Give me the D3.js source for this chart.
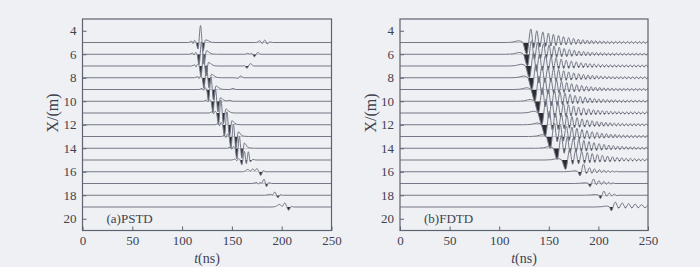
<!DOCTYPE html>
<html>
<head>
<meta charset="utf-8">
<script src="https://cdn.jsdelivr.net/npm/d3@7"></script>
<style>
  body { margin: 0; background: #eef0f3; }
  svg { display: block; }
  text { font-family: "Liberation Serif", "Times New Roman", serif; fill: #3f4250; }
</style>
</head>
<body>
<svg id="chart" width="700" height="267"></svg>
<script>
// receiver positions (m) and tick labels
const receivers = [5, 6, 7, 8, 9, 10, 11, 12, 13, 14, 15, 16, 17, 18, 19];
const xTicksM = [4, 6, 8, 10, 12, 14, 16, 18, 20];
const tTicks = [0, 50, 100, 150, 200, 250];

// (a) PSTD: knots [t (ns), amplitude (m)]
const pstdTraces = [
  [[106.5,0],[109.5,0.12],[111,-0.08],[112.5,0.18],[114,0.02],[116,-0.55],[118.5,1.45],[121,-0.75],[123.5,0.22],[126.5,0.15],[129.5,0.02],[133,0],[174,0],[176,0.05],[178,0.15],[180.5,-0.08],[183,0.22],[185.5,-0.12],[188,0.05],[191,0]],
  [[107.5,0],[110.5,0.1],[112,-0.06],[113.5,0.15],[115,0.02],[117,-0.9],[119.5,1.05],[122,-0.85],[124.5,0.3],[127.5,0.15],[130.5,0.02],[134.5,0],[163,0],[166,0.08],[168,0],[170,0.08],[172.5,-0.22],[176,0.15],[179,0]],
  [[109.5,0],[112.5,0.1],[114,-0.06],[115.5,0.15],[117,0.02],[119,-0.9],[121.5,1.05],[124,-0.85],[126.5,0.3],[129.5,0.15],[132.5,0.02],[136.5,0],[161,0],[163,0.03],[165,-0.2],[168.5,0.2],[172,0]],
  [[112.5,0],[115.5,0.1],[117,-0.06],[118.5,0.15],[120,0.02],[122,-0.9],[124.5,1.05],[127,-0.85],[129.5,0.3],[132.5,0.15],[135.5,0.02],[139.5,0],[153,0],[156,-0.05],[158.5,0.15],[162,0]],
  [[117,0],[120,0.1],[121.5,-0.06],[123,0.15],[124.5,0.02],[126.5,-0.95],[129,1.05],[131.5,-0.9],[134,0.3],[137,0.15],[140,0.02],[144,0],[148,0],[151,0.1],[154,0]],
  [[121.5,0],[124.5,0.1],[126,-0.06],[127.5,0.15],[129,0.02],[131,-0.95],[133.5,1.05],[136,-0.9],[138.5,0.3],[141.5,0.12],[144.5,0.03],[148,0.08],[151,0]],
  [[127,0],[130,0.1],[131.5,-0.06],[133,0.15],[134.5,0.02],[136.5,-0.95],[139,1.1],[141.5,-0.9],[144,0.35],[147,0.15],[150,0.02],[154,0]],
  [[133,0],[136,0.1],[137.5,-0.08],[139,0.2],[140.5,0.05],[142.5,-0.95],[145,1.1],[147.5,-1.0],[150,0.35],[153,0.12],[156,0.02],[160,0]],
  [[139.5,0],[142.5,0.1],[144,-0.08],[145.5,0.2],[147,0.05],[149,-1.0],[151.5,1.05],[154,-1.0],[156.5,0.4],[159.5,0.12],[162.5,0.02],[166.5,0]],
  [[145.5,0],[148.5,0.1],[150,-0.08],[151.5,0.15],[153,0.05],[155,-0.9],[157.5,1.0],[160,-0.85],[162.5,0.45],[165.5,0.12],[168.5,0.02],[172.5,0]],
  [[150,0],[153,0.08],[155,-0.05],[156.5,0.12],[158,0.03],[160,-0.4],[162.5,0.75],[164.5,-0.3],[166.5,0.7],[168.5,-0.15],[171,0.05],[174,0]],
  [[160,0],[163,0.05],[166,0.2],[168.5,0.05],[171,0.25],[173,0.08],[175,0.28],[177,0.02],[179,-0.32],[181.5,0.1],[184,0],[187,0]],
  [[170,0],[175,0.08],[176.5,-0.04],[178,0.06],[180,0.05],[182.3,0.37],[184.7,-0.27],[187,0.08],[190,0]],
  [[183,0],[186,0.04],[189,0.08],[191,0.03],[193,0.28],[196.3,-0.22],[198.5,0.05],[201,0]],
  [[190,0],[194,0.05],[198,0.22],[200.5,0.05],[203,0.35],[207,-0.27],[209.5,0.05],[212,0]]
];

// (b) FDTD: ringing wavelet, [t after first trough (ns), amplitude (m)]
const fdtdWavelet = [
  [-22,0],[-14,0.04],[-8.4,0.15],[-4.5,0.05],[0,-1.0],[4.1,1.15],[7,-0.45],[10.1,1.0],[13,-0.4],[16.2,0.9],
  [19,-0.34],[21.8,0.8],[24.3,-0.3],[26.8,0.7],[29.4,-0.26],[32,0.6],[34.5,-0.22],[37,0.5],[39.6,-0.2],[42.2,0.42],
  [44.7,-0.18],[47.2,0.35],[49.6,-0.15],[52,0.28],[54.3,-0.14],[56.6,0.24],[58.8,-0.12],[61,0.2],[63.2,-0.12],[65.3,0.18],
  [67.4,-0.1],[69.5,0.15],[71.6,-0.1],[73.6,0.13],[75.6,-0.09],[77.6,0.12],[79.6,-0.09],[81.6,0.1],[83.6,-0.09],[85.6,0.1],
  [87.6,-0.09],[89.6,0.1],[91.6,-0.08],[93.6,0.1],[95.6,-0.08],[97.6,0.09],[99.6,-0.08],[101.6,0.09],[103.6,-0.08],[105.6,0.09],
  [107.6,-0.08],[109.6,0.09],[111.6,-0.08],[113.6,0.09],[115.6,-0.08],[117.6,0.09],[119.6,-0.08],[121.6,0.09],[123.6,-0.08]
];
// first-trough time and gain for receivers 5..15
const fdtdArrival = [127.8, 128.5, 130.5, 133, 136, 139.5, 143, 146.5, 151.5, 158.5, 167];
const fdtdGain = [1, 1, 1, 1, 1, 1, 1, 1, 1, 0.95, 0.8];
// weaker far traces, receivers 16..19
const fdtdFar = [
  [[165,0],[172,0.03],[176,0.08],[179,0.02],[181.5,-0.35],[185,0.65],[188,-0.15],[191,0.35],[193.5,-0.12],[196,0.25],[198.5,-0.08],[201,0.18],[203.3,-0.07],[205.5,0.14],[207.7,-0.06],[209.8,0.1],[212,-0.05],[214,0.07],[216,-0.03],[218,0.04],[220,0]],
  [[176,0],[183,0.03],[187,0.06],[189.5,0.02],[191.5,-0.28],[195,0.38],[198,-0.1],[200.5,0.25],[203,-0.08],[205.5,0.18],[208,-0.06],[210.3,0.12],[212.5,-0.05],[214.5,0.06],[216.5,0]],
  [[186,0],[193,0.03],[197,0.06],[200,0.02],[202,-0.28],[205.5,0.35],[208.3,-0.08],[211,0.2],[213.5,-0.06],[216,0.1],[218.5,-0.03],[221,0]],
  [[197,0],[204,0.03],[208,0.08],[211,0.02],[213,-0.32],[217,0.42],[220.5,-0.1],[224,0.35],[227.3,-0.08],[230.5,0.3],[233.7,-0.08],[237,0.25],[240.2,-0.06],[243.5,0.2],[246.7,-0.05],[250,0.15]]
];

const fdtdTraces = fdtdArrival.map((t0, i) =>
  fdtdWavelet.map(d => [t0 + d[0], d[1] * fdtdGain[i]])
).concat(fdtdFar);

const svg = d3.select("#chart");
const y = d3.scaleLinear().domain([3, 21]).range([19, 230.5]);

function drawPanel(id, x0, x1, traces, label) {
  const x = d3.scaleLinear().domain([0, 250]).range([x0, x1]);
  const defs = svg.append("defs");
  defs.append("clipPath").attr("id", "plot-" + id)
    .append("rect")
    .attr("x", x0).attr("y", y(3))
    .attr("width", x1 - x0).attr("height", y(21) - y(3));

  const plot = svg.append("g").attr("clip-path", `url(#plot-${id})`);

  traces.forEach((knots, i) => {
    const rx = receivers[i];
    const base = y(rx);
    let pts = [[0, 0]].concat(knots);
    if (pts[pts.length - 1][0] < 250) pts.push([250, 0]);

    // negative lobes filled
    const cid = `neg-${id}-${i}`;
    defs.append("clipPath").attr("id", cid)
      .append("rect")
      .attr("x", x0).attr("y", base)
      .attr("width", x1 - x0).attr("height", 40);

    plot.append("path")
      .datum(pts)
      .attr("clip-path", `url(#${cid})`)
      .attr("fill", "#2c2d34")
      .attr("d", d3.area()
        .x(d => x(d[0]))
        .y0(base)
        .y1(d => y(rx - d[1]))
        .curve(d3.curveMonotoneX));

    plot.append("path")
      .datum(pts)
      .attr("fill", "none")
      .attr("stroke", "#757986")
      .attr("stroke-width", 1)
      .attr("d", d3.line()
        .x(d => x(d[0]))
        .y(d => y(rx - d[1]))
        .curve(d3.curveMonotoneX));
  });

  // frame
  svg.append("rect")
    .attr("x", x0).attr("y", y(3))
    .attr("width", x1 - x0).attr("height", y(21) - y(3))
    .attr("fill", "none").attr("stroke", "#5f6371").attr("stroke-width", 1.2);

  const yAxis = svg.append("g")
    .attr("transform", `translate(${x0},0)`)
    .call(d3.axisLeft(y).tickValues(xTicksM).tickSize(-4).tickSizeOuter(0).tickPadding(6));
  const tAxis = svg.append("g")
    .attr("transform", `translate(0,${y(21)})`)
    .call(d3.axisBottom(x).tickValues(tTicks).tickSize(-4).tickSizeOuter(0).tickPadding(5));
  [yAxis, tAxis].forEach(a => {
    a.attr("font-size", 13).attr("font-family", null).attr("color", "#5f6371");
    a.select(".domain").remove();
    a.selectAll("text").style("fill", "#3f4250");
  });

  svg.append("text")
    .attr("x", x0 + 24).attr("y", 223)
    .attr("font-size", 13)
    .text(label);

  const tl = svg.append("text")
    .attr("x", (x0 + x1) / 2).attr("y", 263)
    .attr("text-anchor", "middle")
    .attr("font-size", 14);
  tl.append("tspan").attr("font-style", "italic").text("t");
  tl.append("tspan").text("(ns)");

  svg.append("text")
    .attr("transform", `translate(${x0 - 30},${y(11)}) rotate(-90)`)
    .attr("text-anchor", "middle")
    .attr("dy", "0.35em")
    .attr("font-size", 16)
    .text("X/(m)");
}

drawPanel("a", 82.5, 331.5, pstdTraces, "(a)PSTD");
drawPanel("b", 400, 648, fdtdTraces, "(b)FDTD");
</script>
</body>
</html>
